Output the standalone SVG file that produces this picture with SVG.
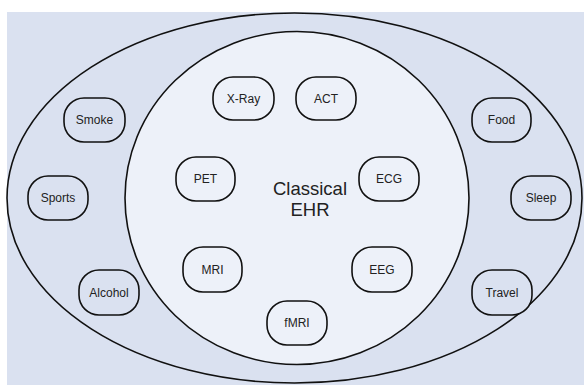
<svg xmlns="http://www.w3.org/2000/svg" width="584" height="385" viewBox="0 0 584 385">
  <style>
    .ring { stroke: #111; stroke-width: 1.6; }
    .node rect { stroke: #111; stroke-width: 1.6; }
    .outerN rect { fill: #dae1f0; }
    .innerN rect { fill: #edf1f9; }
    .node text { font-family: "Liberation Sans", Arial, sans-serif; font-size: 12px; fill: #222; text-anchor: middle; }
    .title { font-family: "Liberation Sans", Arial, sans-serif; font-size: 18.5px; fill: #222; text-anchor: middle; }
  </style>
  <rect x="0" y="0" width="584" height="385" fill="#ffffff"/>
  <rect x="7" y="12" width="577" height="373" fill="#dae1f0"/>
  <g id="outer-ring">
    <ellipse class="ring" cx="294.5" cy="198" rx="287.5" ry="185" fill="#dae1f0"/>
  </g>
  <g id="classical-ehr">
    <ellipse class="ring" cx="297" cy="198" rx="172" ry="166.5" fill="#edf1f9"/>
    <text class="title" x="310" y="195">Classical</text>
    <text class="title" x="310" y="216">EHR</text>
  </g>
  <g id="connectors"></g>

  <g id="smoke" class="node outerN"><rect x="64" y="98" width="61" height="44" rx="20" ry="20"/><text x="94.5" y="124">Smoke</text></g>
  <g id="sports" class="node outerN"><rect x="28" y="176" width="60" height="44" rx="20" ry="20"/><text x="58" y="202">Sports</text></g>
  <g id="alcohol" class="node outerN"><rect x="79" y="270" width="60" height="45" rx="20" ry="20"/><text x="109" y="297">Alcohol</text></g>
  <g id="food" class="node outerN"><rect x="472" y="98" width="59" height="44" rx="20" ry="20"/><text x="501.5" y="124">Food</text></g>
  <g id="sleep" class="node outerN"><rect x="511" y="176" width="60" height="44" rx="20" ry="20"/><text x="541" y="202">Sleep</text></g>
  <g id="travel" class="node outerN"><rect x="472" y="270" width="60" height="45" rx="20" ry="20"/><text x="502" y="297">Travel</text></g>

  <g id="xray" class="node innerN"><rect x="213" y="77" width="61" height="43" rx="20" ry="20"/><text x="243.5" y="103">X-Ray</text></g>
  <g id="act" class="node innerN"><rect x="296" y="77" width="60" height="43" rx="20" ry="20"/><text x="326" y="103">ACT</text></g>
  <g id="pet" class="node innerN"><rect x="176" y="157" width="59" height="44" rx="20" ry="20"/><text x="205.5" y="183">PET</text></g>
  <g id="ecg" class="node innerN"><rect x="359" y="157" width="60" height="44" rx="20" ry="20"/><text x="389" y="183">ECG</text></g>
  <g id="mri" class="node innerN"><rect x="183" y="247" width="59" height="45" rx="20" ry="20"/><text x="212.5" y="274">MRI</text></g>
  <g id="eeg" class="node innerN"><rect x="352" y="247" width="60" height="45" rx="20" ry="20"/><text x="382" y="274">EEG</text></g>
  <g id="fmri" class="node innerN"><rect x="267" y="301" width="60" height="44" rx="20" ry="20"/><text x="297" y="327">fMRI</text></g>
</svg>
